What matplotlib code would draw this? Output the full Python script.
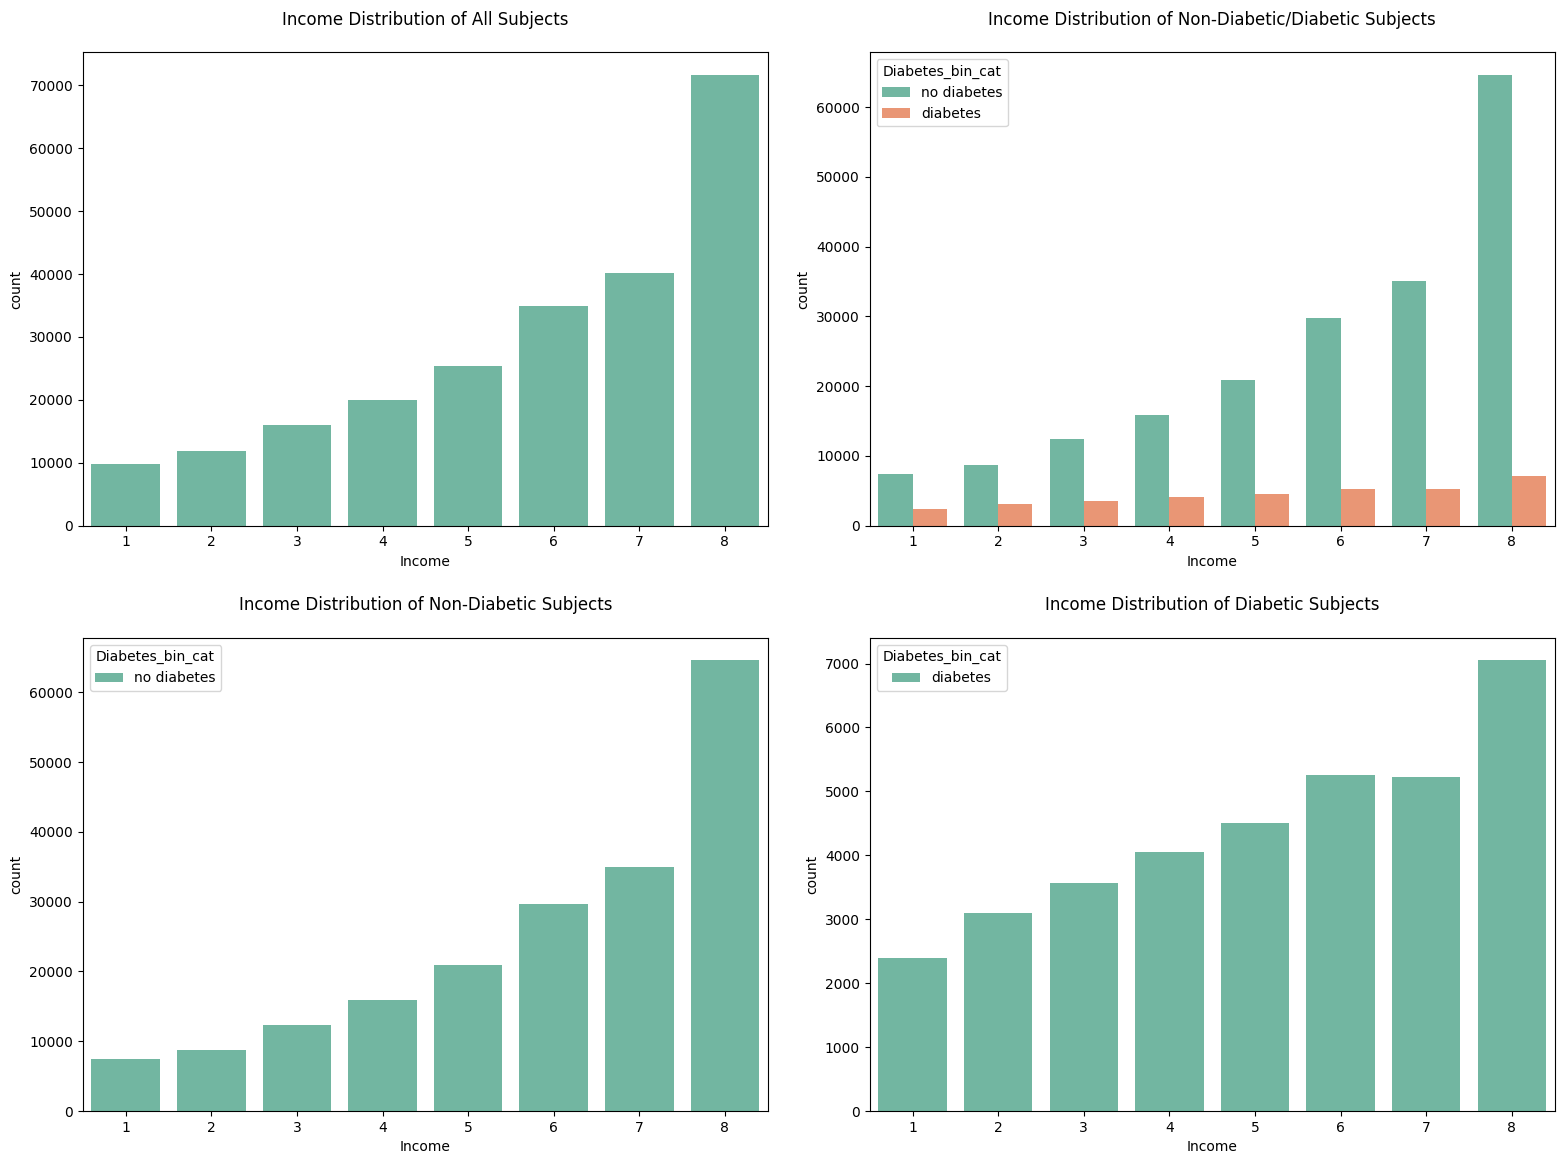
import pandas as pd
import matplotlib
matplotlib.use("Agg")
import matplotlib.pyplot as plt
import seaborn as sns

income = [1, 2, 3, 4, 5, 6, 7, 8]
no_diabetes = [7400, 8700, 12400, 15900, 20900, 29700, 35000, 64600]
diabetes = [2390, 3090, 3560, 4050, 4500, 5260, 5230, 7050]
all_subjects = [a + b for a, b in zip(no_diabetes, diabetes)]

# long table for the hue plots
df_nd = pd.DataFrame({'Income': income, 'count': no_diabetes, 'Diabetes_bin_cat': 'no diabetes'})
df_d = pd.DataFrame({'Income': income, 'count': diabetes, 'Diabetes_bin_cat': 'diabetes'})
df_both = pd.concat([df_nd, df_d], ignore_index=True)
df_all = pd.DataFrame({'Income': income, 'count': all_subjects})

fig, axes = plt.subplots(2, 2, figsize=(15.64, 11.64), dpi=100)

ax = axes[0, 0]
sns.barplot(data=df_all, x='Income', y='count', color=sns.color_palette('Set2')[0], ax=ax)
ax.set_title('Income Distribution of All Subjects', pad=20)

ax = axes[0, 1]
sns.barplot(data=df_both, x='Income', y='count', hue='Diabetes_bin_cat', palette='Set2', ax=ax)
ax.set_title('Income Distribution of Non-Diabetic/Diabetic Subjects', pad=20)
sns.move_legend(ax, 'upper left')

ax = axes[1, 0]
sns.barplot(data=df_nd, x='Income', y='count', hue='Diabetes_bin_cat', palette='Set2', ax=ax)
ax.set_title('Income Distribution of Non-Diabetic Subjects', pad=20)
sns.move_legend(ax, 'upper left')

ax = axes[1, 1]
sns.barplot(data=df_d, x='Income', y='count', hue='Diabetes_bin_cat', palette='Set2', ax=ax)
ax.set_title('Income Distribution of Diabetic Subjects', pad=20)
sns.move_legend(ax, 'upper left')

plt.subplots_adjust(left=0.053, right=0.994, top=0.955, bottom=0.0455, wspace=0.149, hspace=0.237)
plt.savefig('out.png')
